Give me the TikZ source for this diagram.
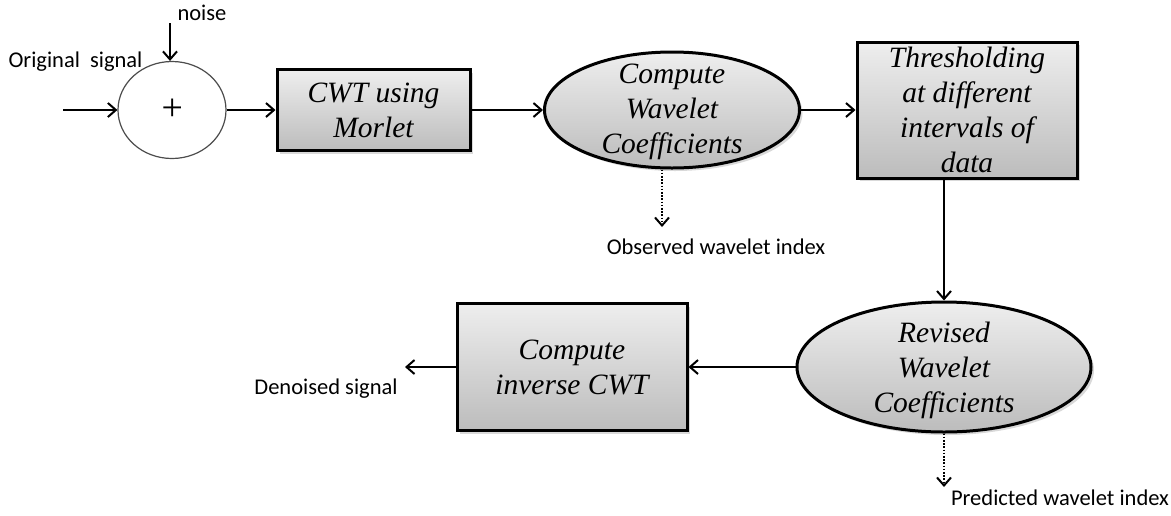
\documentclass[tikz,border=0pt]{standalone}
\usepackage{fontspec}
\setmainfont{Liberation Serif}
\newfontfamily\lblfont{Carlito}
\usetikzlibrary{arrows.meta,shapes.geometric,shadows}
\definecolor{blocktop}{HTML}{EEEEEE}
\definecolor{blockbot}{HTML}{BCBCBC}
\tikzset{
	stage/.style={draw=black, line width=3pt, top color=blocktop, bottom color=blockbot,
		drop shadow={opacity=0.3, shadow xshift=3pt, shadow yshift=-3pt}, inner sep=0pt},
	blockbox/.style={stage, rectangle, align=center, font=\fontsize{29.5}{35}\selectfont\itshape},
	blockoval/.style={stage, ellipse},
	ovaltext/.style={align=center, inner sep=0pt, font=\fontsize{29.5}{35}\selectfont\itshape},
	sumnode/.style={draw=black!70, line width=1.2pt, ellipse, fill=white, inner sep=0pt,
		font=\fontsize{38}{38}\selectfont\itshape},
	sig/.style={line width=2pt, -{Straight Barb[length=8pt,width=14pt,line width=2pt]}},
	tap/.style={sig, line width=1.6pt, dash pattern=on 1.6pt off 1.6pt},
	lbl/.style={inner sep=0pt, font=\lblfont\fontsize{22.5}{27}\selectfont}
}

\begin{document}
\begin{tikzpicture}[x=1pt, y=-1pt]
		%%%%% START %%%%%
		\useasboundingbox (0,0) rectangle (1171,515);
		
		% first row
		\node[sumnode, minimum width=108, minimum height=97] (sum) at (172,110) {+};
		\node[blockbox, minimum width=193, minimum height=81] (cwt) at (373.5,110) {CWT using\\Morlet};
		\node[blockoval, minimum width=255, minimum height=116] (coef) at (672,110) {};
		\node[ovaltext] (coeftxt) at (672,112) {Compute\\Wavelet\\Coefficients};
		\node[blockbox, minimum width=220, minimum height=136] (thr) at (967,110) {Thresholding\\at different\\intervals of\\data};
		
		% second row
		\node[blockoval, minimum width=294, minimum height=130] (rev) at (944,367) {};
		\node[ovaltext] (revtxt) at (944,370) {Revised\\Wavelet\\Coefficients};
		\node[blockbox, minimum width=230, minimum height=127] (inv) at (572,367) {Compute\\inverse CWT};
		
		% free ends
		\coordinate (in) at (63,110);
		\coordinate (noisein) at (170,23);
		\coordinate (out) at (405,367);
		\coordinate (obs) at (662,227);
		\coordinate (pred) at (944,487);
		
		% texts
		\node[lbl] (origtxt) at (75.5,62) {Original\ \ signal};
		\node[lbl] (noisetxt) at (202,13) {noise};
		\node[lbl] (obstxt) at (716,247) {Observed wavelet index};
		\node[lbl] (predtxt) at (1060,498) {Predicted wavelet index};
		\node[lbl] (dentxt) at (326,389) {Denoised signal};
		
		% connectors
		\draw[sig] (in) -- (sum);
		\draw[sig] (noisein) -- (noisein |- sum.north);
		\draw[sig] (sum) -- (cwt);
		\draw[sig] (cwt) -- (coef);
		\draw[sig] (coef) -- (thr);
		\draw[sig] (thr.south -| rev.north) -- (rev.north);
		\draw[sig] (rev) -- (inv);
		\draw[sig] (inv) -- (out);
		\draw[tap] (coef.south -| obs) -- (obs);
		\draw[tap] (rev.south) -- (pred);
		
		%%%%% END %%%%%
\end{tikzpicture}
\end{document}
